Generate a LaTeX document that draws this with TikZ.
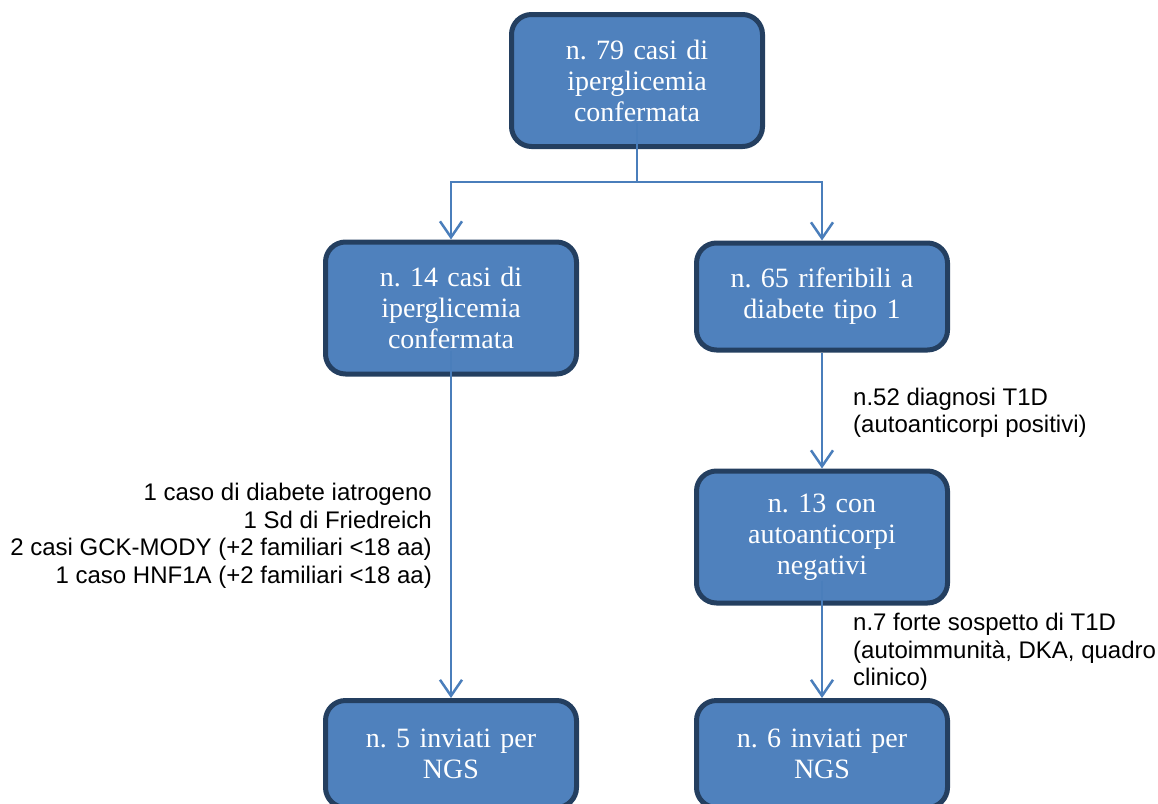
\documentclass[tikz,border=0pt]{standalone}
\usepackage{fontspec}
\setmainfont{Liberation Serif}
\newfontfamily\notefont{Liberation Sans}
\usetikzlibrary{arrows.meta}
\definecolor{boxfill}{HTML}{4F81BD}
\definecolor{boxline}{HTML}{243F60}
\definecolor{linkcol}{HTML}{4A7EBB}
\frenchspacing

\begin{document}
\begin{tikzpicture}[x=1pt,y=-1pt]
  \tikzstyle{box}=[draw=boxline,fill=boxfill,line width=5pt,rounded corners=20pt,
    text width=245pt,inner xsep=3pt,align=center,text=white,
    font=\fontsize{28}{31}\selectfont]
  \tikzstyle{tall}=[minimum height=132pt]
  \tikzstyle{short}=[minimum height=107pt]
  \tikzstyle{link}=[draw=linkcol,line width=2.5pt]
  \tikzstyle{arr}=[link,-{Straight Barb[length=16pt,width=22pt]}]
  \tikzstyle{note}=[font=\notefont\fontsize{24}{27.5}\selectfont,inner sep=0pt]
  \useasboundingbox (0,0) rectangle (1158,803);
  % boxes
  \node[box,tall]  (top)    at (637,80.5) {n. 79 casi di\\iperglicemia\\confermata};
  \node[box,tall]  (left)   at (451,308)  {n. 14 casi di\\iperglicemia\\confermata};
  \node[box,short] (right)  at (822,296.5){n. 65 riferibili a\\diabete tipo 1};
  \node[box,tall]  (neg)    at (822,537)  {n. 13 con\\autoanticorpi\\negativi};
  \node[box,short] (ngsl)   at (451,754)  {n. 5 inviati per\\NGS};
  \node[box,short] (ngsr)   at (822,754)  {n. 6 inviati per\\NGS};
  % notes
  \node[note,anchor=east,align=right] (causes) at (432,536)
    {1 caso di diabete iatrogeno\\1 Sd di Friedreich\\
     2 casi GCK-MODY (+2 familiari <18 aa)\\1 caso HNF1A (+2 familiari <18 aa)};
  \node[note,anchor=west,align=left] (t1d) at (853,413)
    {n.52 diagnosi T1D\\(autoanticorpi positivi)};
  \node[note,anchor=west,align=left] (susp) at (853,652)
    {n.7 forte sospetto di T1D\\(autoimmunità, DKA, quadro\\clinico)};
  % connectors
  \coordinate (split) at (637,182);
  \draw[link] ([yshift=26pt]top.south) -- (split);
  \draw[arr] (split) -| (left.north);
  \draw[arr] (split) -| (right.north);
  \draw[arr] ([yshift=26pt]left.south) -- (ngsl.north);
  \draw[arr] (right.south) -- (neg.north);
  \draw[arr] ([yshift=25pt]neg.south) -- (ngsr.north);
\end{tikzpicture}
\end{document}
